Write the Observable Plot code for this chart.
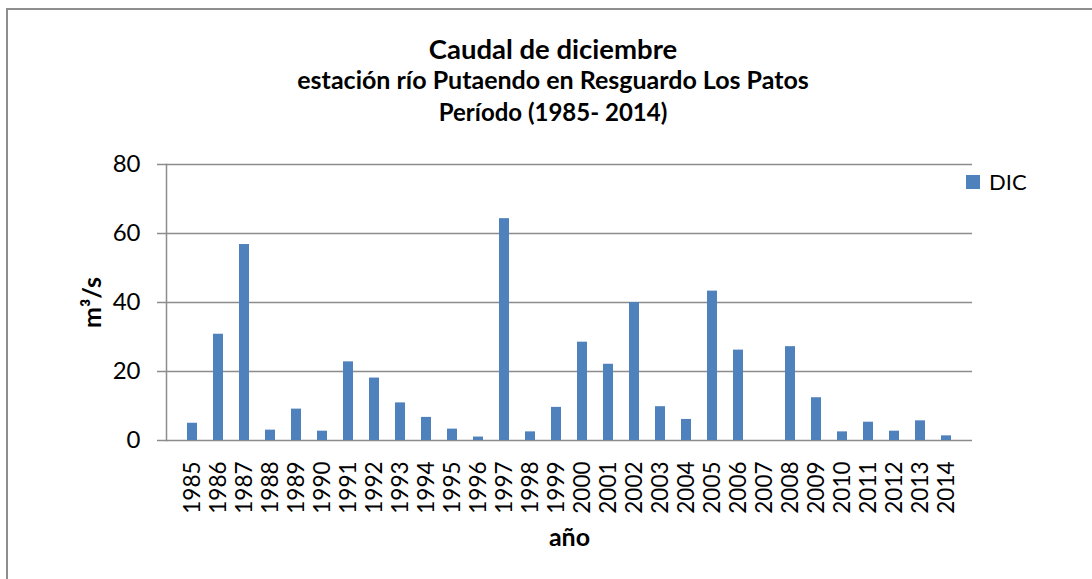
<!DOCTYPE html>
<html><head><meta charset="utf-8">
<script src="https://cdn.jsdelivr.net/npm/d3@7"></script>
<script src="https://cdn.jsdelivr.net/npm/@observablehq/plot@0.6"></script>
<style>
html,body{margin:0;padding:0;width:1092px;height:579px;overflow:hidden;background:#fff;font-family:Lato,sans-serif;}
#frame{position:absolute;left:6px;top:8px;width:1200px;height:700px;border:2px solid #8e8e8e;}
.t{position:absolute;left:0;width:1106px;text-align:center;font-weight:bold;color:#000;white-space:nowrap;}
#chart{position:absolute;left:0;top:130px;}
#sw{position:absolute;left:966px;top:175px;width:14px;height:14px;background:#4f81bd;}
#lt{position:absolute;left:989px;top:171px;font-size:22px;line-height:22px;color:#000;}
</style></head>
<body>
<div id="frame"></div>
<div class="t" style="top:35px;font-size:27.5px;line-height:27px">Caudal de diciembre</div>
<div class="t" style="top:67px;font-size:25px;line-height:25px">estación río Putaendo en Resguardo Los Patos</div>
<div class="t" style="top:100px;font-size:24px;line-height:24px">Período (1985- 2014)</div>
<div id="chart"></div>
<div id="sw"></div><div id="lt">DIC</div>
<script>
const years = ["1985","1986","1987","1988","1989","1990","1991","1992","1993","1994","1995","1996","1997","1998","1999","2000","2001","2002","2003","2004","2005","2006","2007","2008","2009","2010","2011","2012","2013","2014"];
const dic = [5.0,30.8,56.8,3.0,9.1,2.7,22.8,18.1,10.9,6.7,3.3,1.0,64.3,2.5,9.6,28.5,22.1,40.0,9.8,6.1,43.3,26.2,0,27.2,12.4,2.5,5.3,2.7,5.7,1.35];
const yTicks = [0,20,40,60,80];
const data = years.map((y,i)=>({year:y, value:dic[i]}));

const chart = Plot.plot({
  width: 1092, height: 440,
  marginLeft: 166, marginRight: 120, marginTop: 34, marginBottom: 130,
  style: {fontFamily: "Lato, sans-serif", fontSize: "24px", color: "#000", background: "transparent", overflow: "visible"},
  x: {type: "band", domain: years, paddingInner: 0.6, paddingOuter: 0.3},
  y: {domain: [0, 80]},
  marks: [
    Plot.ruleY(yTicks, {stroke: "#8c8c8c", strokeWidth: 1.5}),
    Plot.frame({anchor: "left", stroke: "#8c8c8c", strokeWidth: 1.5}),
    Plot.barY(data, {x: "year", y: "value", fill: "#4f81bd"}),
    Plot.axisY({ticks: yTicks, tickSize: 9, tickPadding: 17, stroke: "#8c8c8c", strokeWidth: 1.5, label: null, fontSize: 24}),
    Plot.axisY({ticks: [], label: "m³/s", labelArrow: "none", labelAnchor: "center", labelOffset: 83, fontWeight: "bold", fontSize: 25}),
    Plot.axisX({tickRotate: -90, tickSize: 0, tickPadding: 21, label: null, fontSize: 22.5}),
    Plot.axisX({ticks: [], label: "año", labelArrow: "none", labelAnchor: "center", labelOffset: 105, fontWeight: "bold", fontSize: 25})
  ]
});
document.getElementById("chart").appendChild(chart);
</script>
</body></html>
